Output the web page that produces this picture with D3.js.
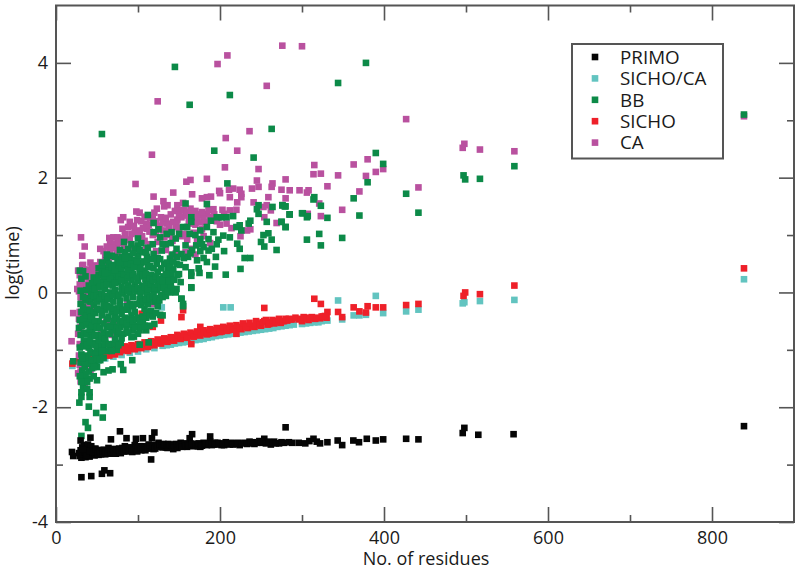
<!DOCTYPE html>
<html><head><meta charset="utf-8">
<script src="https://cdnjs.cloudflare.com/ajax/libs/d3/7.8.5/d3.min.js"></script>
<style>html,body{margin:0;background:#fff}svg{display:block}text{font-family:"Open Sans",sans-serif;fill:#1a1a1a}</style>
</head><body><div id="chart"></div>
<script>
const seriesNames = ["PRIMO","SICHO/CA","BB","SICHO","CA"];
const seriesColors = ["#050505","#62c4c0","#0c8a48","#ee2029","#b9519f"];
const xMajorTicks = [0,200,400,600,800];
const xMinorTicks = [100,300,500,700];
const yMajorTicks = [-4,-2,0,2,4];
const yMinorTicks = [-3,-1,1,3];
const xLabel = "No. of residues";
const yLabel = "log(time)";

const primo = [[19.5,-2.78],[21,-2.85],[30,-2.58],[42,-2.53],[67,-2.56],[78,-2.42],[86,-2.54],[97.5,-2.55],[106,-2.54],[120,-2.44],[117,-2.54],[166,-2.47],[163,-2.54],[188,-2.51],[116,-2.91],[31,-3.22],[43,-3.2],[56,-3.16],[59,-3.1],[66,-3.15],
[28,-2.8],[29,-2.85],[30,-2.75],[31,-2.88],[32,-2.7],[33,-2.82],[34,-2.66],[35,-2.78],[36,-2.87],[37,-2.72],[38,-2.82],[39,-2.65],[40,-2.8],[41,-2.86],[42,-2.74],[43,-2.68],[44,-2.82],[46,-2.76],[47,-2.84],[48,-2.72],[50,-2.79],[52,-2.83],[54,-2.75],[56,-2.8],[58,-2.74],[60,-2.82],[62,-2.76],[64,-2.71],[66,-2.81],[68,-2.76],[70,-2.8],[72,-2.73],[75,-2.78],[77,-2.72],[79,-2.8],[82,-2.74],[84,-2.68],[86,-2.77],[88,-2.72],[91,-2.76],[94,-2.7],[96,-2.66],[98,-2.74],[101,-2.7],[104,-2.75],[107,-2.68],[110,-2.72],[113,-2.65],[116,-2.7],[119,-2.73],[122,-2.67],[125,-2.62],[128,-2.69],[131,-2.64],[134,-2.7],[137,-2.64],[140,-2.68],[143,-2.73],[146,-2.64],[149,-2.68],[152,-2.62],[156,-2.66],[160,-2.69],[164,-2.63],[168,-2.68],[172,-2.64],[176,-2.69],[180,-2.62],[184,-2.66],[188,-2.6],[192,-2.65],[197,-2.62],[202,-2.66],[207,-2.61],[212,-2.65],[218,-2.63],[224,-2.66],[230,-2.62],[236,-2.6],[242,-2.64],[248,-2.59],[252,-2.62],[254,-2.55],[258,-2.6],[262,-2.65],[266,-2.6],[272,-2.63],[278,-2.62],[284,-2.61],
[280,-2.35],[296,-2.62],[304,-2.63],[309,-2.59],[314,-2.55],[318,-2.6],[322,-2.63],[331,-2.61],[343.5,-2.58],[349,-2.66],[362.6,-2.58],[369.5,-2.61],[379,-2.55],[390,-2.58],[399,-2.56],[427,-2.55],[442,-2.56],[496,-2.45],[498,-2.36],[515,-2.48],[558,-2.47],[839,-2.33]];
const primoExtra = [[33,-2.74],[37,-2.84],[41,-2.76],[45,-2.78],[49,-2.74],[51,-2.81],[53,-2.77],[55,-2.82],[57,-2.76],[59,-2.78],[61,-2.79],[63,-2.81],[65,-2.74],[67,-2.78],[69,-2.73],[71,-2.77],[73,-2.81],[74,-2.74],[76,-2.75],[78,-2.79],[80,-2.75],[81,-2.71],[83,-2.77],[85,-2.73],[87,-2.7],[89,-2.75],[90,-2.71],[92,-2.74],[93,-2.78],[95,-2.74],[97,-2.71],[99,-2.77],[100,-2.73],[102,-2.68],[103,-2.72],[105,-2.7],[106,-2.73],[108,-2.71],[109,-2.75],[111,-2.69],[112,-2.71],[114,-2.72],[115,-2.67],[117,-2.68],[118,-2.66],[120,-2.7],[121,-2.72],[123,-2.66],[124,-2.69],[126,-2.66],[127,-2.65],[129,-2.67],[130,-2.7],[132,-2.67],[133,-2.65],[135,-2.67],[136,-2.71],[138,-2.67],[139,-2.65],[141,-2.66],[142,-2.69],[144,-2.67],[145,-2.7],[147,-2.66],[148,-2.71],[150,-2.65],[151,-2.68],[153,-2.66],[154,-2.69],[157,-2.63],[158,-2.67],[161,-2.65],[162,-2.67],[165,-2.67],[166,-2.64],[170,-2.66],[173,-2.68],[174,-2.63],[177,-2.65],[178,-2.67],[182,-2.65],[183,-2.63],[186,-2.64],[190,-2.66],[194,-2.62],[195,-2.65],[199,-2.64],[204,-2.63],[205,-2.66],[209,-2.63],[214,-2.62],[216,-2.65],[220,-2.64],[222,-2.62],[227,-2.63],[233,-2.64],[238,-2.63],[240,-2.61],[245,-2.62],[250,-2.6],[256,-2.63],[260,-2.61],[264,-2.62],[268,-2.63],[275,-2.61],[288,-2.62]];

const sichoCa = [[20,-1.28],[30,-1.26],[40,-1.22],[50,-1.19],[60,-1.15],[70,-1.12],[80,-1.09],[90,-1.05],[100,-1.03],[110,-.99],[120,-.97],[130,-.93],[140,-.91],[150,-.88],[160,-.86],[170,-.83],[180,-.81],[190,-.78],[200,-.75],[210,-.73],[220,-.72],[230,-.69],[240,-.67],[250,-.65],[260,-.63],[270,-.6],[280,-.58],[290,-.56],[300,-.55],[310,-.53],[320,-.52],[331,-.49],[349,-.47],[363,-.4],[370,-.4],[378,-.39],[399,-.36],[427,-.33],[442,-.3],[129,-.26],[204,-.26],[213,-.26],[344,-.14],[390,-.06],[498,-.17],[496,-.19],[517,-.15],[559,-.13],[839,.23],[305,-.54],[315,-.52],[324,-.5],[285,-.57],
[135,-.92],[145,-.89],[155,-.87],[165,-.85],[175,-.82],[185,-.79],[195,-.76],[205,-.74],[215,-.72],[225,-.7],[235,-.68],[245,-.66],[255,-.64],[265,-.62],[275,-.59]];

const sicho = [[20,-1.24],[27,-1.2],[30,-1.17],[34,-1.15],[38,-1.16],[42,-1.13],[46,-1.14],[50,-1.11],[54,-1.1],[58,-1.08],[62,-1.09],[66,-1.05],[70,-1.04],[74,-1.03],[78,-1.04],[82,-.98],[86,-1],[90,-.96],[94,-.98],[98,-.94],[102,-.92],[106,-.94],[110,-.9],[114,-.92],[118,-.88],[122,-.86],[126,-.88],[130,-.84],[134,-.85],[138,-.81],[142,-.83],[146,-.79],[150,-.8],[154,-.76],[158,-.78],[162,-.74],[166,-.76],[170,-.72],[174,-.74],[178,-.71],[182,-.69],[186,-.72],[190,-.66],[194,-.7],[198,-.66],[202,-.68],[206,-.62],[210,-.66],[214,-.62],[218,-.64],[222,-.6],[226,-.64],[230,-.58],[234,-.62],[238,-.58],[242,-.6],[246,-.54],[250,-.58],[254,-.5],[258,-.56],[262,-.52],[266,-.54],[270,-.5],[274,-.53],[278,-.5],[282,-.49],[286,-.47],[296,-.47],[300,-.5],[304,-.45],[308,-.48],[312,-.43],[316,-.46],[322,-.45],[326,-.42],[330,-.44],[315,-.11],[323,-.2],[254,-.27],[153,-.43],[155,-.31],[331,-.34],[344,-.34],[349,-.43],[363,-.26],[370,-.33],[378,-.35],[380,-.24],[390,-.26],[399,-.26],[427,-.22],[442,-.2],[497,-.06],[499,0],[517,-.03],[559,.12],[839,.42],[128,-.49],[118,-.6],[104.5,-.37],[112,-.37],[165,-.9],[220,-.72],[176,-.6]];
const sichoExtra = [[60,-1.02],[65,-1.1],[68,-.98],[72,-1.08],[76,-.97],[80,-1.01],[84,-.94],[88,-1.02],[92,-.92],[96,-.99],[100,-.9],[104,-.97],[108,-.87],[112,-.95],[116,-.85],[120,-.92],[124,-.82],[128,-.89],[132,-.8],[136,-.86],[140,-.78],[144,-.84],[148,-.74],[152,-.81],[156,-.72],[160,-.79],[164,-.7],[168,-.77],[172,-.68],[176,-.75],[180,-.66],[184,-.73],[188,-.64],[192,-.71],[196,-.62],[200,-.69],[204,-.6],[208,-.67],[212,-.58],[216,-.65],[220,-.57],[224,-.62],[228,-.54],[232,-.6],[236,-.53],[240,-.59],[244,-.5],[248,-.56],[252,-.52],[256,-.48],[260,-.55],[264,-.48],[268,-.52],[272,-.46],[276,-.5],[280,-.46],[284,-.46],[288,-.47],[292,-.44],[298,-.46],[302,-.43],[306,-.46],[310,-.44],[318,-.44],[324,-.42],[328,-.41]];

const ca = [[276,4.3],[300,4.29],[209,4.13],[197,3.98],[257,3.6],[124,3.33],[236,2.81],[207,2.69],[221,2.47],[117,2.4],[206,2.18],[247,2.15],[97,1.89],[159,1.93],[164,1.96],[184,1.98],[280,1.97],[245,1.95],[264,1.9],[263,1.84],[247,1.84],[239,1.81],[275,1.79],[285,1.78],[143,1.74],[166,1.71],[199,1.77],[200,1.73],[211,1.79],[216,1.81],[224,1.79],[226,1.72],[212,1.66],[226,1.66],[259,1.66],[119,1.67],[189,1.67],[184,1.66],[178,1.64],[280,1.64],[131,1.59],[221,1.57],[241,1.57],[136,1.52],[132,1.5],[148,1.52],[155,1.56],[257,1.52],[253,1.49],[123,1.46],[192,1.45],[164,1.46],[152,1.43],[212,1.43],[220,1.44],[262,1.43],[98,1.41],[102,1.39],[120,1.39],[128,1.31],[82,1.31],[79,1.26],[90,1.23],[104,1.24],[81,1.11],[88,1.14],[167,1.37],[176,1.34],[184,1.37],[180,1.31],[205,1.37],[254,1.31],[269,1.21],[237,1.1],[233,1.08],[225,.98],[30.5,.96],[65,.95],[70,.96],[75,.96],[66,.88],[72,.85],[96,1.05],[102,1.08],[111,1.11],[135,1.2],[143,1.23],[153,1.31],[35,.8],[54,.76],[32,.64],[32,.47],[48,.47],[54,.53],[58,.5],[52,.41],[66,.7],[74,.76],[86,.91],[165,.76],[141,.64],
[148,1.27],[158,1.34],[162,1.25],[172,1.28],[190,1.32],[196,1.24],[110,1.2],[115,1.3],[125,1.16],[131,1.08],[92,1.02],[105,.98],[78,.86],[83,.78],[118,1],[146,1.14],[170,1.18],[178,1.1],[156,1.02],[168,1.04],[60,.62],[64,.55],[70,.62],[75,.68],[92,.8],[100,.74],
[27,.38],[29,.3],[31,.22],[33,.34],[35,.12],[37,.26],[39,.05],[41,.18],[43,.3],[45,.08],[47,.22],[49,-.02],[28,.02],[30,-.08],[33,-.16],[36,-.02],[38,-.2],[42,-.1],[46,-.14],[50,.14],[26,.06],[21,-.36],[19,-.85],[29,-.34],[28,-.46],[30,-.6],[27,-.72],[29,-.9],[28,-1.1],[27,-1.41],[29,-1.26],[30,-1.55],[32,-1.46],[35,-1.66],[61,-.52],[66,-.5],[74,-.56],[55,-.72],[68,-.74],[87,-.18],[94,-.22],[101,.04],[118,-.2],[85,.25],[110,.3],[48,-.9],[42,-1.36],
[276,1.52],[285,1.36],[297,1.78],[306,1.74],[308,1.78],[314,2.06],[315,2.22],[323,2.07],[321,1.55],[323,1.33],[307,1.37],[331,1.85],[344,2.04],[349,1.44],[363,2.23],[370,1.76],[378,2.03],[380,2.32],[390,2.1],[399,2.15],[427,3.02],[442,1.83],[496,2.52],[498,2.59],[517,2.49],[559,2.46],[839,3.07]];
const caExtra = [[108,1.32],[113,1.18],[118,1.28],[122,1.24],[127,1.12],[130,1.22],[134,1.3],[138,1.12],[140,1.36],[145,1.42],[147,1.2],[150,1.36],[156,1.44],[160,1.4],[163,1.3],[166,1.2],[170,1.42],[173,1.36],[175,1.22],[178,1.4],[182,1.22],[186,1.44],[188,1.3],[193,1.36],[198,1.3],[200,1.18],[203,1.44],[208,1.2],[214,1.12],[95,1.16],[99,1.26],[106,1.12],[84,1.02],[90,.92],[76,.88],[62,.8],[58,.72],[68,.78],[80,.94],[100,.98],[114,1.06],[122,1.02],[139,1],[150,1.12],[40,.4],[44,.44],[36,.36],[42,.52],[46,.34],[50,.3],[54,.24],[38,.14],[44,.12],[34,.06],[40,-.06],[32,-.04],[35,-.26],[31,-.18],[37,-.12],[44,-.24],[48,.04],[52,.18],[29,.14],[33,.48],[39,.28],[47,.12],[34,-.34],[30,-.44],[33,-.52],[29,-.62],[30,-1.38],[31,-1.46],[108,.9],[115,.84],[124,.88],[132,.96],[142,.9],[152,.98],[160,.92],[172,.92],[180,.98],[188,.86],[110,.78],[122,.72],[134,.74],[146,.68],[158,.7],[170,.66]];

const bb = [[145,3.93],[56,2.76],[163,3.27],[212,3.44],[263,2.85],[193,2.47],[241,2.35],[209,1.9],[158,1.55],[184,1.54],[112,1.35],[119,1.21],[165,1.31],[165,1.23],[189,1.25],[196,1.31],[202,1.31],[208,1.31],[216,1.33],[247,1.52],[264,1.49],[245,1.45],[276,1.52],[280,1.5],[285,1.36],[301,1.38],[247,1.37],[237,1.25],[235,1.2],[257,1.23],[275,1.23],[280,1.14],[259,1.03],[253,1],[263,.92],[250,.88],[254,.8],[269,.74],[221,.85],[224,.76],[230,.6],[237,.6],[225,.41],[205,.72],[195,.62],[194,.45],[187,.3],[207,.31],[175,.34],[165,.35],[165,.29],[165,.09],[152,.18],[147,.06],[153,-.11],[140,.3],[135,.23],[224,1.17],[220,1.14],[226,1.08],[212,.96],[204,.99],[198,.92],[186,.93],[176,.93],[171,.82],[180,.79],[186,.73],[184,.53],[161,.62],[153,.67],[147,.76],[141,1.05],[155,1.14],[163,1.02],[176,1.08],[184,1.14],[119,1.05],[127,.96],[135,1.02],[100,.94],[83,.88],[88,.76],[100,.82],[111,.62],[119,.67],[129,.73],[139,.59],[147,.5],
[378,4],[344,3.65],[390,2.43],[399,2.24],[380,1.92],[559,2.2],[497,2.04],[499,1.97],[517,1.98],[427,1.72],[442,1.39],[363,1.64],[370,1.34],[315,1.66],[314,1.62],[323,1.51],[331,1.3],[349,.95],[321,1.02],[323,.82],[306,.92],[300,1.38],[306,1.31],[307,1.33],[285,1.36],[280,1.14],[275,1.23],[276,1.52],[279,1.5],[839,3.1],
[28.5,-1.92],[31,-1.82],[41,-1.82],[40,-1.99],[58,-2],[49,-2.1],[57,-2.18],[36,-2.26],[39,-2.36],[31,-2.5],[50,-1.53],[41,-1.5],[58,-1.39],[64,-1.36],[69,-1.34],[79,-1.25],[82,-1.35],[93,-1.18],[21,-1.2],[50,-1.3],[33,-1.65],[38,-1.68],[41,-1.74],[31,-1.74],[127,-.39],[130,-.4],[120,-.55],[110,-.66],[95,-.77],[102,-.91],[113,-.87],[79,-.88],[165,.08],[153,-.11],[155,-.2],[155,-.24],[146,0],[139,0],[131,.15],
[29,.38],[33,.37],[31,.24],[30,.03],[44,.02],[50,.1],[56,.18],[62,.24],[66,.34],[58,.42],[70,.48],[75,.58],[80,.62],[84,.7],[90,.64],[95,.56],[98,.46],[104,.52],[108,.38],[112,.44],[116,.3],[120,.24],[124,.36],[128,.42],[131,.28],[136,.12],[141,.06],[126,.08],[118,.1],[110,.16],[102,.28],[92,.4],[86,.46],[78,.36],[72,.26],[66,.16],[60,.06],[54,-.02],[48,-.1],[42,-.16],[38,-.3],[35,-.4],[31,-.34],[29,-.48],[28,-.62],[30,-.74],[32,-.58],[34,-.7],[36,-.84],[29,-.96],[31,-1.08],[33,-.94],[35,-1.1],[37,-1.24],[30,-1.22],[32,-1.36],[34,-1.5],[36,-1.42],[38,-1.56],[29,-1.46],[31,-1.56],[40,-1.38],[42,-1.2],[44,-1.32],[46,-1.46],[48,-1.22],[52,-1.18],[44,-1.06],[40,-.96],[46,-.88],[50,-1],[54,-1.06],[58,-.94],[62,-1.02],[66,-.94],[70,-.9],[74,-1],[42,-.76],[46,-.62],[50,-.74],[54,-.82],[58,-.7],[62,-.6],[66,-.72],[70,-.62],[74,-.72],[78,-.6],[82,-.72],[86,-.64],[90,-.56],[94,-.66],[98,-.58],[102,-.66],[106,-.52],[110,-.44],[114,-.58],[44,-.46],[48,-.36],[52,-.5],[56,-.4],[60,-.3],[64,-.42],[68,-.34],[72,-.42],[76,-.28],[80,-.38],[84,-.44],[88,-.3],[92,-.4],[96,-.34],[100,-.44],[104,-.22],[108,-.28],[112,-.2],[116,-.32],[120,-.16],[124,-.24],[40,-.5],[36,-.14],[46,-.22],[50,-.16],[56,-.12],[60,-.18],[66,-.08],[70,-.16],[74,-.06],[78,-.14],[82,-.02],[86,-.1],[90,0],[94,-.08],[98,.02],[103,-.06],[107,.04],[111,-.04],[115,.06],[119,-.02],[123,.04],[128,-.04],[133,.02],[46,.26],[52,.3],[58,.28],[64,.4],[70,.32],[76,.18],[80,.1],[84,.2],[88,.12],[92,.22],[96,.14],[100,.2],[105,.12],[109,.24],[113,.14],[56,.52],[62,.56],[68,.64],[74,.42],[82,.5],[88,.56],[100,.64],[106,.7],[112,.78],[118,.84],[124,.6],[132,.5],[136,.4],[143,.4],[92,.84],[96,.76],[104,.86],[150,.32],[158,.44],[172,.56],[176,.72],[166,.74],[158,.82],[170,1],[146,.94],[134,.84],[125,1.1],[140,.86],[192,1.05],[190,.76],[196,.84],[180,.6],[174,.42],[156,.6],[142,.66],[160,1.14],[150,1.02]];
const bbExtra = [[33,-1.22],[35,-1.3],[38,-1.14],[40,-1.24],[42,-1.04],[44,-1.18],[46,-1.3],[48,-1.08],[50,-1.16],[52,-.94],[54,-1.18],[56,-1.02],[58,-1.14],[60,-.88],[64,-.9],[68,-1.02],[72,-.82],[76,-.92],[32,-1.14],[34,-.84],[38,-.92],[37,-.72],[41,-.86],[44,-.68],[47,-.76],[48,-.92],[52,-.84],[56,-.76],[60,-.8],[64,-.72],[68,-.66],[72,-.6],[76,-.68],[80,-.8],[84,-.56],[88,-.7],[92,-.78],[96,-.6],[100,-.72],[104,-.6],[108,-.58],[33,-.46],[37,-.56],[41,-.64],[44,-.58],[47,-.5],[50,-.6],[54,-.62],[58,-.54],[62,-.46],[66,-.58],[70,-.5],[74,-.46],[78,-.52],[82,-.5],[86,-.54],[90,-.46],[94,-.5],[98,-.46],[102,-.5],[106,-.42],[110,-.34],[114,-.4],[118,-.42],[122,-.36],[30,-.2],[33,-.26],[37,-.4],[41,-.32],[43,-.42],[46,-.34],[50,-.28],[54,-.3],[58,-.22],[62,-.24],[66,-.26],[70,-.28],[74,-.32],[78,-.24],[82,-.3],[86,-.24],[90,-.2],[94,-.24],[98,-.2],[102,-.12],[106,-.16],[110,-.12],[114,-.1],[118,-.06],[122,-.1],[126,-.14],[130,-.08],[134,-.06],[33,-.08],[37,.04],[40,-.1],[43,-.04],[46,-.06],[50,-.04],[53,-.1],[56,-.02],[60,-.06],[63,-.12],[66,0],[69,-.04],[72,.04],[76,-.04],[80,.02],[84,.06],[88,.02],[92,.08],[96,.04],[100,.08],[104,.02],[108,.1],[112,.06],[116,.14],[120,.08],[124,.14],[128,.1],[132,.1],[136,.02],[140,.12],[40,.12],[44,.16],[47,.06],[50,.2],[54,.1],[58,.12],[62,.14],[66,.24],[69,.12],[72,.16],[76,.28],[80,.22],[83,.32],[87,.26],[90,.3],[94,.32],[98,.26],[102,.38],[106,.3],[110,.32],[114,.24],[118,.22],[122,.28],[126,.24],[130,.2],[134,.32],[138,.2],[144,.22],[148,.3],[36,.28],[52,.42],[56,.36],[60,.34],[64,.5],[68,.44],[72,.38],[76,.48],[80,.42],[84,.5],[88,.4],[91,.5],[95,.44],[99,.54],[103,.42],[107,.54],[111,.54],[115,.46],[119,.42],[123,.5],[127,.58],[135,.52],[139,.44],[143,.54],[151,.48],[78,.52],[84,.6],[94,.68],[102,.74],[110,.7],[118,.58],[130,.84],[148,.62],[164,.68],[178,.84],[62,.66],[72,.62],[78,.74]];

const allSeries = {"PRIMO":primo.concat(primoExtra),"SICHO/CA":sichoCa,"BB":bb.concat(bbExtra),"SICHO":sicho.concat(sichoExtra),"CA":ca.concat(caExtra)};
const drawOrder = ["SICHO/CA","SICHO","CA","BB","PRIMO"];

const W=800,H=571, L=56,R=794,T=5.5,B=522, S=6.6, fs=18, lfs=18.8;
const axisCol="#555";
const color=d3.scaleOrdinal(seriesNames,seriesColors);
const x=d3.scaleLinear([0,900],[L,R]);
const y=d3.scaleLinear([-4,5],[B,T]);
const svg=d3.select("#chart").append("svg").attr("width",W).attr("height",H);

function ax(gen,tx,ty,vals,size,labels){
  const g=svg.append("g").attr("transform",`translate(${tx},${ty})`)
   .call(gen.tickValues(vals).tickSize(size).tickSizeOuter(0).tickPadding(labels?8:0).tickFormat(labels?(d=>d):""));
  g.select(".domain").remove();
  g.selectAll("line").attr("stroke",axisCol).attr("stroke-width",1.6);
  g.selectAll("text").style("font-size",fs+"px").attr("font-family",null).attr("fill",null);
  return g;
}
drawOrder.forEach(n=>{
  svg.append("g").selectAll("rect").data(allSeries[n]).join("rect")
   .attr("x",d=>x(d[0])-S/2).attr("y",d=>y(d[1])-S/2).attr("width",S).attr("height",S)
   .attr("fill",color(n));
});
svg.append("rect").attr("x",L).attr("y",T).attr("width",R-L).attr("height",B-T)
 .attr("fill","none").attr("stroke",axisCol).attr("stroke-width",2);
const gb=ax(d3.axisBottom(x),0,B,xMajorTicks,-15,true);
gb.selectAll("text").attr("y",6).attr("dy","0.9em");
ax(d3.axisBottom(x),0,B,xMinorTicks,-7,false);
ax(d3.axisTop(x),0,T,xMajorTicks,-15,false);
ax(d3.axisTop(x),0,T,xMinorTicks,-7,false);
ax(d3.axisLeft(y),L,0,yMajorTicks,-15,true);
ax(d3.axisLeft(y),L,0,yMinorTicks,-7,false);
ax(d3.axisRight(y),R,0,yMajorTicks,-15,false);
ax(d3.axisRight(y),R,0,yMinorTicks,-7,false);

svg.append("text").attr("x",426).attr("y",565).attr("text-anchor","middle").style("font-size",fs+"px").text(xLabel);
svg.append("text").attr("transform","translate(19,263) rotate(-90)").attr("text-anchor","middle").style("font-size",fs+"px").text(yLabel);

const lg=svg.append("g");
lg.append("rect").attr("x",572).attr("y",44).attr("width",151).attr("height",114.5).attr("fill","#fff").attr("stroke",axisCol).attr("stroke-width",2);
seriesNames.forEach((n,i)=>{
  const cy=57+i*21.4;
  lg.append("rect").attr("x",595-S/2).attr("y",cy-S/2).attr("width",S).attr("height",S).attr("fill",color(n));
  lg.append("text").attr("x",620).attr("y",cy).attr("dy","0.36em").style("font-size",lfs+"px").text(n);
});
</script></body></html>
